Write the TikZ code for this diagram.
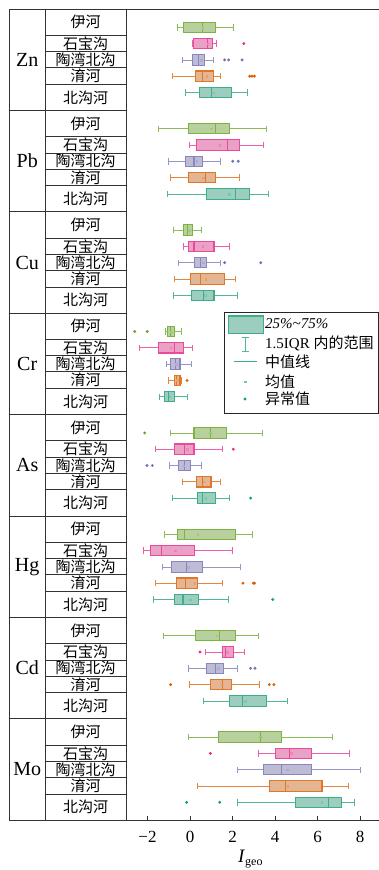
\documentclass[tikz,border=0pt]{standalone}
\usepackage{fontspec}
\setmainfont{Liberation Serif}
\newfontfamily\cjk{Noto Sans CJK SC}

\definecolor{yihe}{HTML}{66A61E}
\definecolor{shibao}{HTML}{E7298A}
\definecolor{taowan}{HTML}{7570B3}
\definecolor{yuhe}{HTML}{D95F02}
\definecolor{beigou}{HTML}{1B9E77}

% one box: row, colour, low whisker, q1, median, q3, high whisker, mean
\newcommand{\bxp}[8]{%
  \draw[#2!75, whisk] (#3,16.3*#1) -- (#4,16.3*#1) (#6,16.3*#1) -- (#7,16.3*#1);
  \draw[#2!75, whisk] (#3,16.3*#1-3.2) -- (#3,16.3*#1+3.2) (#7,16.3*#1-3.2) -- (#7,16.3*#1+3.2);
  \draw[#2!85, boxline, fill=#2!40!white!95!black] (#4,16.3*#1-5.2) rectangle (#6,16.3*#1+5.2);
  \draw[#2!85, boxline] (#5,16.3*#1-5.2) -- (#5,16.3*#1+5.2);
  \draw[#2!60, meanmark] (#8,16.3*#1) +(-0.8pt,-0.8pt) rectangle +(0.8pt,0.8pt);
}
% outliers: row, colour, list
\newcommand{\outl}[3]{\foreach \v in {#3} \fill[#2] (\v,16.3*#1) circle (1.6pt);}

\begin{document}
\begin{tikzpicture}[x=1pt,y=-1pt]
\tikzstyle{frame}=[line width=0.9pt, black!80]
\tikzstyle{whisk}=[line width=0.8pt]
\tikzstyle{boxline}=[line width=1.1pt]
\tikzstyle{meanmark}=[line width=0.4pt]
\tikzstyle{river}=[font=\cjk\fontsize{15}{15}\selectfont, inner sep=0pt]
\tikzstyle{element}=[font=\fontsize{20}{20}\selectfont, inner sep=0pt]
\tikzstyle{ticklabel}=[font=\fontsize{17}{17}\selectfont, inner sep=0pt]
\tikzstyle{legtext}=[font=\fontsize{15}{15}\selectfont, inner sep=0pt, anchor=west]

\useasboundingbox (0,0) rectangle (379,870);

% table frame
\draw[frame] (9,9) -- (379,9);
\draw[frame] (9,820) -- (379,820);
\draw[frame] (9,9) -- (9,820);
\draw[frame] (45.3,9) -- (45.3,820);
\draw[frame] (126,9) -- (126,820);
\foreach \i in {1,...,7} \draw[frame] (9,9+101.4*\i) -- (126,9+101.4*\i);

\foreach \el [count=\i from 0] in {Zn,Pb,Cu,Cr,As,Hg,Cd,Mo} {
  \pgfmathsetmacro{\blocktop}{9+101.4*\i}
  \node[element] (el\i) at (27.2,\blocktop+50.7) {\el};
  \node[river] (yi\i) at (85.7,\blocktop+13.1) {伊河};
  \node[river] (sb\i) at (85.7,\blocktop+34.5) {石宝沟};
  \node[river] (tw\i) at (85.7,\blocktop+50.7) {陶湾北沟};
  \node[river] (yu\i) at (85.7,\blocktop+67) {淯河};
  \node[river] (bg\i) at (85.7,\blocktop+88.4) {北沟河};
  \foreach \off in {26.3,42.7,58.7,75.3}
    \draw[frame] (45.3,\blocktop+\off) -- (126,\blocktop+\off);
}

\begin{scope}[shift={(190,0)}, x=21.25pt]
% axis
\foreach \t/\lab in {-2/−2,0/0,2/2,4/4,6/6,8/8} {
  \draw[frame] (\t,820) -- (\t,816);
  \node[ticklabel] (tick\t) at (\t,836.7) {\lab};
}
\node[font=\fontsize{19}{19}\selectfont, inner sep=0pt] (xlab) at (2.85,859) {\textit{I}$_{\textrm{\fontsize{12}{12}\selectfont geo}}$};

% Zn
\begin{scope}[shift={(0,27.3)}]
\bxp{0}{yihe}{-0.58}{-0.31}{0.60}{1.19}{2.04}{0.60}
\bxp{1}{shibao}{0.13}{0.16}{0.83}{1.05}{1.24}{0.83}
\outl{1}{shibao}{2.53}
\bxp{2}{taowan}{-0.35}{0.11}{0.41}{0.67}{1.08}{0.52}
\outl{2}{taowan}{1.63,1.82,2.45}
\bxp{3}{yuhe}{-0.82}{0.27}{0.60}{1.11}{1.41}{0.78}
\outl{3}{yuhe}{2.81,2.92,3.03}
\bxp{4}{beigou}{-0.24}{0.44}{1.00}{1.96}{2.71}{1.11}
\end{scope}

% Pb
\begin{scope}[shift={(0,128.7)}]
\bxp{0}{yihe}{-1.49}{-0.05}{1.21}{1.85}{3.58}{1.00}
\bxp{1}{shibao}{-0.03}{0.30}{1.76}{2.32}{3.45}{1.40}
\bxp{2}{taowan}{-1.02}{-0.22}{0.19}{0.60}{1.41}{0.31}
\outl{2}{taowan}{2.01,2.27}
\bxp{3}{yuhe}{-0.91}{-0.06}{0.74}{1.22}{2.31}{0.63}
\bxp{4}{beigou}{-1.07}{0.77}{2.15}{2.82}{3.69}{1.84}
\end{scope}

% Cu
\begin{scope}[shift={(0,230.1)}]
\bxp{0}{yihe}{-0.78}{-0.31}{-0.11}{0.11}{0.52}{-0.05}
\bxp{1}{shibao}{-0.33}{-0.05}{0.19}{1.13}{1.85}{0.60}
\bxp{2}{taowan}{-0.53}{0.22}{0.49}{0.77}{1.41}{0.62}
\outl{2}{taowan}{1.63,3.33}
\bxp{3}{yuhe}{-0.75}{0.02}{0.49}{1.62}{2.13}{0.74}
\bxp{4}{beigou}{-0.78}{0.05}{0.63}{1.13}{2.23}{0.71}
\end{scope}

% Cr
\begin{scope}[shift={(0,331.5)}]
\bxp{0}{yihe}{-1.16}{-1.05}{-0.91}{-0.74}{-0.41}{-0.88}
\outl{0}{yihe}{-2.6,-2.01}
\bxp{1}{shibao}{-2.37}{-1.49}{-0.75}{-0.31}{0.09}{-0.90}
\bxp{2}{taowan}{-1.13}{-0.91}{-0.69}{-0.47}{0.06}{-0.65}
\bxp{3}{yuhe}{-1.00}{-0.75}{-0.63}{-0.47}{-0.39}{-0.60}
\outl{3}{yuhe}{-0.14}
\bxp{4}{beigou}{-1.43}{-1.22}{-1.00}{-0.75}{-0.11}{-0.95}
\end{scope}

% As
\begin{scope}[shift={(0,432.9)}]
\bxp{0}{yihe}{-0.94}{0.19}{0.96}{1.71}{3.42}{0.96}
\outl{0}{yihe}{-2.13}
\bxp{1}{shibao}{-1.65}{-0.72}{-0.24}{0.19}{1.52}{-0.13}
\outl{1}{shibao}{2.04}
\bxp{2}{taowan}{-0.97}{-0.55}{-0.27}{0.02}{0.53}{-0.30}
\outl{2}{taowan}{-2.02,-1.77}
\bxp{3}{yuhe}{-0.38}{0.31}{0.60}{0.99}{1.44}{0.65}
\bxp{4}{beigou}{-0.82}{0.35}{0.58}{1.21}{1.87}{0.74}
\outl{4}{beigou}{2.85}
\end{scope}

% Hg
\begin{scope}[shift={(0,534.3)}]
\bxp{0}{yihe}{-1.22}{-0.60}{-0.24}{2.13}{2.92}{0.36}
\bxp{1}{shibao}{-2.21}{-1.85}{-1.33}{0.22}{2.01}{-0.69}
\bxp{2}{taowan}{-1.32}{-0.89}{-0.16}{0.58}{2.35}{-0.08}
\bxp{3}{yuhe}{-1.65}{-0.63}{-0.20}{0.35}{1.51}{0.22}
\outl{3}{yuhe}{2.49,2.98,3.04}
\bxp{4}{beigou}{-1.74}{-0.74}{-0.33}{0.41}{1.80}{0.00}
\outl{4}{beigou}{3.89}
\end{scope}

% Cd
\begin{scope}[shift={(0,635.7)}]
\bxp{0}{yihe}{-1.25}{0.24}{1.38}{2.12}{3.22}{1.25}
\bxp{1}{shibao}{0.71}{1.52}{1.69}{2.05}{2.54}{1.75}
\outl{1}{shibao}{0.47}
\bxp{2}{taowan}{-0.08}{0.78}{1.18}{1.58}{2.23}{1.32}
\outl{2}{taowan}{2.85,3.06}
\bxp{3}{yuhe}{-0.05}{0.97}{1.52}{1.95}{3.26}{1.52}
\outl{3}{yuhe}{-0.91,3.73,3.95}
\bxp{4}{beigou}{0.63}{1.85}{2.46}{3.61}{4.58}{2.59}
\end{scope}

% Mo
\begin{scope}[shift={(0,737.1)}]
\bxp{0}{yihe}{-0.09}{1.32}{3.31}{4.31}{6.70}{3.30}
\bxp{1}{shibao}{3.23}{4.02}{4.69}{5.73}{7.48}{4.75}
\outl{1}{shibao}{0.96}
\bxp{2}{taowan}{2.24}{3.45}{4.30}{5.73}{8.03}{4.58}
\bxp{3}{yuhe}{0.36}{3.73}{4.49}{6.21}{7.44}{4.60}
\bxp{4}{beigou}{2.21}{4.96}{6.51}{7.15}{7.73}{6.20}
\outl{4}{beigou}{-0.16,1.40}
\end{scope}
\end{scope}

% legend
\draw[line width=1pt, black!85, fill=white] (224.3,312.3) rectangle (378.5,413.3);
\draw[beigou!85, boxline, fill=beigou!40!white!95!black] (228.3,316) rectangle (263.3,333.3);
\node[legtext] (leg1) at (265,324) {\textit{25\%\textasciitilde 75\%}};
\draw[beigou!75, whisk] (245,337) -- (245,351.7) (241.5,337) -- (248.5,337) (241.5,351.7) -- (248.5,351.7);
\node[legtext] (leg2) at (265,343.3) {1.5IQR {\cjk 内的范围}};
\draw[beigou!85, boxline] (234,361.7) -- (256.7,361.7);
\node[legtext, font=\cjk\fontsize{15}{15}\selectfont] (leg3) at (265,362) {中值线};
\draw[beigou!60, meanmark] (245,381.7) +(-0.8pt,-0.8pt) rectangle +(0.8pt,0.8pt);
\node[legtext, font=\cjk\fontsize{15}{15}\selectfont] (leg4) at (265,381.7) {均值};
\fill[beigou] (245,399) circle (1.6pt);
\node[legtext, font=\cjk\fontsize{15}{15}\selectfont] (leg5) at (265,399) {异常值};
\end{tikzpicture}
\end{document}
